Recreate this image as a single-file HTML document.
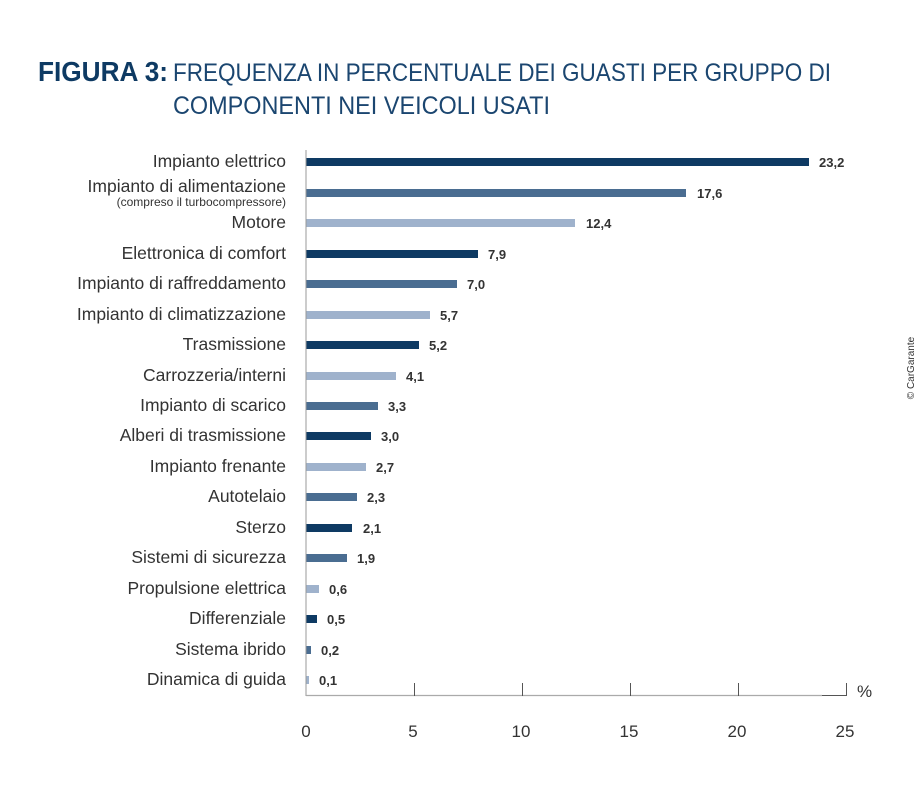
<!DOCTYPE html>
<html><head><meta charset="utf-8"><style>
body{margin:0;background:#fff;}
svg text{font-family:"Liberation Sans",sans-serif;}
</style></head><body>
<svg width="924" height="792" viewBox="0 0 924 792" xmlns="http://www.w3.org/2000/svg">
<text x="38" y="81" fill="#0e3a63" font-size="28" font-weight="bold" textLength="130" lengthAdjust="spacingAndGlyphs">FIGURA 3:</text>
<text x="173" y="81" fill="#1b4670" font-size="25" textLength="658" lengthAdjust="spacingAndGlyphs">FREQUENZA IN PERCENTUALE DEI GUASTI PER GRUPPO DI</text>
<text x="173" y="114" fill="#1b4670" font-size="25" textLength="377" lengthAdjust="spacingAndGlyphs">COMPONENTI NEI VEICOLI USATI</text>
<text x="914" y="368" fill="#333" font-size="10" transform="rotate(-90 914 368)" text-anchor="middle">© CarGarante</text>
<g font-size="17.5" fill="#333" text-anchor="end">
<text x="286" y="167">Impianto elettrico</text>
<text x="286" y="192">Impianto di alimentazione</text>
<text x="286" y="206" font-size="12">(compreso il turbocompressore)</text>
<text x="286" y="228">Motore</text>
<text x="286" y="259">Elettronica di comfort</text>
<text x="286" y="289">Impianto di raffreddamento</text>
<text x="286" y="320">Impianto di climatizzazione</text>
<text x="286" y="350">Trasmissione</text>
<text x="286" y="381">Carrozzeria/interni</text>
<text x="286" y="411">Impianto di scarico</text>
<text x="286" y="441">Alberi di trasmissione</text>
<text x="286" y="472">Impianto frenante</text>
<text x="286" y="502">Autotelaio</text>
<text x="286" y="533">Sterzo</text>
<text x="286" y="563">Sistemi di sicurezza</text>
<text x="286" y="594">Propulsione elettrica</text>
<text x="286" y="624">Differenziale</text>
<text x="286" y="655">Sistema ibrido</text>
<text x="286" y="685">Dinamica di guida</text>
</g>
<g>
<rect x="306" y="158" width="503" height="8" fill="#0e3a63"/>
<rect x="306" y="189" width="380" height="8" fill="#4a6d91"/>
<rect x="306" y="219" width="269" height="8" fill="#9fb2cc"/>
<rect x="306" y="250" width="172" height="8" fill="#0e3a63"/>
<rect x="306" y="280" width="151" height="8" fill="#4a6d91"/>
<rect x="306" y="311" width="124" height="8" fill="#9fb2cc"/>
<rect x="306" y="341" width="113" height="8" fill="#0e3a63"/>
<rect x="306" y="372" width="90" height="8" fill="#9fb2cc"/>
<rect x="306" y="402" width="72" height="8" fill="#4a6d91"/>
<rect x="306" y="432" width="65" height="8" fill="#0e3a63"/>
<rect x="306" y="463" width="60" height="8" fill="#9fb2cc"/>
<rect x="306" y="493" width="51" height="8" fill="#4a6d91"/>
<rect x="306" y="524" width="46" height="8" fill="#0e3a63"/>
<rect x="306" y="554" width="41" height="8" fill="#4a6d91"/>
<rect x="306" y="585" width="13" height="8" fill="#9fb2cc"/>
<rect x="306" y="615" width="11" height="8" fill="#0e3a63"/>
<rect x="306" y="646" width="5" height="8" fill="#4a6d91"/>
<rect x="306" y="676" width="3" height="8" fill="#9fb2cc"/>
</g>
<g font-size="13" font-weight="bold" fill="#333">
<text x="819" y="167">23,2</text>
<text x="697" y="198">17,6</text>
<text x="586" y="228">12,4</text>
<text x="488" y="259">7,9</text>
<text x="467" y="289">7,0</text>
<text x="440" y="320">5,7</text>
<text x="429" y="350">5,2</text>
<text x="406" y="381">4,1</text>
<text x="388" y="411">3,3</text>
<text x="381" y="441">3,0</text>
<text x="376" y="472">2,7</text>
<text x="367" y="502">2,3</text>
<text x="363" y="533">2,1</text>
<text x="357" y="563">1,9</text>
<text x="329" y="594">0,6</text>
<text x="327" y="624">0,5</text>
<text x="321" y="655">0,2</text>
<text x="319" y="685">0,1</text>
</g>
<line x1="306" y1="150" x2="306" y2="696" stroke="#999" stroke-width="1"/>
<line x1="306" y1="695.5" x2="822" y2="695.5" stroke="#aaa" stroke-width="1.2"/>
<line x1="822" y1="695.5" x2="846" y2="695.5" stroke="#555" stroke-width="1"/>
<g stroke="#555" stroke-width="1">
<line x1="414.5" y1="683" x2="414.5" y2="696"/>
<line x1="522.5" y1="683" x2="522.5" y2="696"/>
<line x1="630.5" y1="683" x2="630.5" y2="696"/>
<line x1="738.5" y1="683" x2="738.5" y2="696"/>
<line x1="846.5" y1="683" x2="846.5" y2="696"/>
</g>
<text x="857" y="697" font-size="17" fill="#333">%</text>
<g font-size="17" fill="#333" text-anchor="middle">
<text x="306" y="737">0</text>
<text x="413" y="737">5</text>
<text x="521" y="737">10</text>
<text x="629" y="737">15</text>
<text x="737" y="737">20</text>
<text x="845" y="737">25</text>
</g>
</svg>
</body></html>
